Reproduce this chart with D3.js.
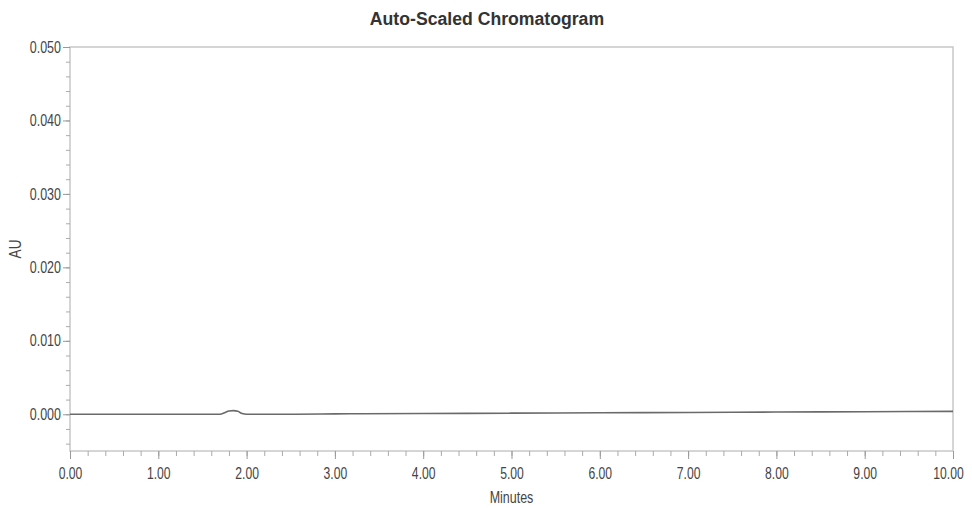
<!DOCTYPE html>
<html>
<head>
<meta charset="utf-8">
<script src="https://cdn.jsdelivr.net/npm/d3@7"></script>
<style>
  body { margin: 0; background: #fff; }
  svg { display: block; }
  text { font-family: "Liberation Sans", Arial, sans-serif; fill: #333; }
</style>
</head>
<body>
<svg id="chart"></svg>
<script>
const w = 972;
const h = 508;

// chromatogram trace (minutes, AU)
const minutes = [0, 0.5, 1.0, 1.5, 1.7, 1.75, 1.8, 1.85, 1.9, 1.95, 2.0, 2.5, 3.0, 4.0, 5.0, 6.0, 7.0, 8.0, 9.0, 10.0];
const au = [0, 0, 0, 0, 0, 0.0002, 0.00045, 0.0005, 0.0004, 0.0001, 0, 0, 0.00005, 0.0001, 0.00015, 0.0002, 0.00025, 0.0003, 0.00035, 0.0004];

const xTicks = [0, 1, 2, 3, 4, 5, 6, 7, 8, 9, 10];
const yTicks = [0, 0.01, 0.02, 0.03, 0.04, 0.05];

const margin = { top: 47, right: 19, bottom: 57, left: 70 };

const svg = d3.select('#chart').attr('width', w).attr('height', h);

const x = d3.scaleLinear().domain([0, 10]).range([margin.left, w - margin.right]);
const y = d3.scaleLinear().domain([-0.005, 0.05]).range([h - margin.bottom, margin.top]);

// squeeze text to look like the narrow font of the original
function narrow(sel, k) {
  sel.each(function () {
    const len = this.getComputedTextLength();
    d3.select(this).attr('textLength', len * k).attr('lengthAdjust', 'spacingAndGlyphs');
  });
}

////////////////////////
/////// FRAME //////////
////////////////////////

svg.append('rect')
  .attr('x', x(0))
  .attr('y', y(0.05))
  .attr('width', x(10) - x(0))
  .attr('height', y(-0.005) - y(0.05))
  .attr('fill', 'none')
  .attr('stroke', '#c8c8c8')
  .attr('stroke-width', 1.5);

// minor ticks
const xMinor = d3.range(0, 10.001, 0.2);
svg.append('g')
  .attr('transform', `translate(0,${y(-0.005)})`)
  .call(d3.axisBottom(x).tickValues(xMinor).tickSize(5).tickFormat(''))
  .call((g) => g.select('.domain').remove())
  .call((g) => g.selectAll('line').attr('stroke', '#aaa'));

const yMinor = d3.range(-0.004, 0.0501, 0.002);
svg.append('g')
  .attr('transform', `translate(${x(0)},0)`)
  .call(d3.axisLeft(y).tickValues(yMinor).tickSize(4).tickFormat(''))
  .call((g) => g.select('.domain').remove())
  .call((g) => g.selectAll('line').attr('stroke', '#aaa'));

// major axes
svg.append('g')
  .attr('transform', `translate(0,${y(-0.005)})`)
  .call(d3.axisBottom(x).tickValues(xTicks).tickSize(8).tickPadding(9).tickFormat(d3.format('.2f')))
  .call((g) => g.select('.domain').remove())
  .call((g) => g.selectAll('line').attr('stroke', '#999'))
  .call((g) => g.selectAll('text').attr('font-size', 16).style('fill', '#444').call(narrow, 0.76))
  .call((g) => g.selectAll('text').filter((d) => d === 10).attr('x', -5));

svg.append('g')
  .attr('transform', `translate(${x(0)},0)`)
  .call(d3.axisLeft(y).tickValues(yTicks).tickSize(7).tickPadding(2).tickFormat(d3.format('.3f')))
  .call((g) => g.select('.domain').remove())
  .call((g) => g.selectAll('line').attr('stroke', '#999'))
  .call((g) => g.selectAll('text').attr('font-size', 16).style('fill', '#444').call(narrow, 0.78));

////////////////////////
/////// TRACE //////////
////////////////////////

const line = d3.line()
  .x((d, i) => x(minutes[i]))
  .y((d) => y(d))
  .curve(d3.curveMonotoneX);

svg.append('path')
  .datum(au)
  .attr('d', line)
  .attr('fill', 'none')
  .attr('stroke', '#6a6a6a')
  .attr('stroke-width', 1.6);

////////////////////////
/////// LABELS /////////
////////////////////////

svg.append('text')
  .attr('x', 487)
  .attr('y', 25)
  .attr('text-anchor', 'middle')
  .attr('font-size', 18)
  .attr('font-weight', 'bold')
  .style('fill', '#333')
  .text('Auto-Scaled Chromatogram')
  .call(narrow, 0.98);

svg.append('text')
  .attr('x', x(5))
  .attr('y', 503)
  .attr('text-anchor', 'middle')
  .attr('font-size', 16)
  .style('fill', '#444')
  .text('Minutes')
  .call(narrow, 0.78);

svg.append('text')
  .attr('transform', `translate(21,${(y(0.05) + y(-0.005)) / 2}) rotate(-90)`)
  .attr('text-anchor', 'middle')
  .attr('font-size', 16)
  .style('fill', '#444')
  .text('AU')
  .call(narrow, 0.85);
</script>
</body>
</html>
